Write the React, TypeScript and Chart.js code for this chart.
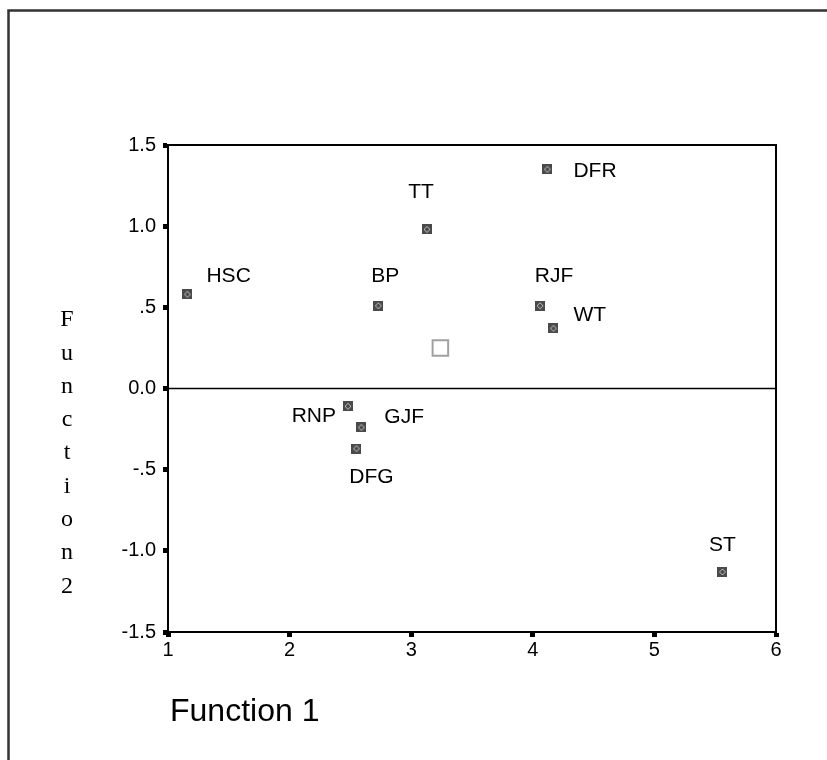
import React, { useEffect, useRef } from "react";
import { Chart, registerables } from "chart.js";

Chart.register(...registerables);

const groupNames = ["HSC", "BP", "TT", "DFR", "RJF", "WT", "RNP", "GJF", "DFG", "ST"];
const function1 = [1.16, 2.73, 3.13, 4.12, 4.06, 4.17, 2.48, 2.59, 2.55, 5.56];
const function2 = [0.58, 0.51, 0.98, 1.35, 0.51, 0.37, -0.11, -0.24, -0.37, -1.13];
const centroidX = [3.24];
const centroidY = [0.25];
const yTickValues = [1.5, 1.0, 0.5, 0.0, -0.5, -1.0, -1.5];
const yTickLabels = ["1.5", "1.0", ".5", "0.0", "-.5", "-1.0", "-1.5"];
const xTickLabels = ["1", "2", "3", "4", "5", "6"];
const xTitle = "Function 1";
const yTitle = "Function2";

// label offsets in pixels (style), [dx, dy, align]
const labelOffsets: [number, number, CanvasTextAlign][] = [
  [19, -18, "left"],
  [7, -30, "center"],
  [-6, -37, "center"],
  [26, 2, "left"],
  [14, -30, "center"],
  [20, -13, "left"],
  [-12, 10, "right"],
  [23, -10, "left"],
  [15, 29, "center"],
  [0, -27, "center"],
];

function makeMarker(): HTMLCanvasElement {
  const c = document.createElement("canvas");
  c.width = 10;
  c.height = 10;
  const g = c.getContext("2d")!;
  g.fillStyle = "#4a4a4a";
  g.fillRect(0, 0, 10, 10);
  g.fillStyle = "#bdbdbd";
  const pts = [[4, 2], [5, 2], [2, 4], [2, 5], [7, 4], [7, 5], [4, 7], [5, 7], [3, 3], [6, 3], [3, 6], [6, 6]];
  for (const [x, y] of pts) g.fillRect(x, y, 1, 1);
  return c;
}

export default function App() {
  const ref = useRef<HTMLCanvasElement>(null);
  useEffect(() => {
    const canvas = ref.current!;
    const marker = makeMarker();
    const extras = {
      id: "extras",
      beforeDraw(chart: any) {
        const ctx = chart.ctx;
        ctx.save();
        ctx.fillStyle = "#fff";
        ctx.fillRect(0, 0, chart.width, chart.height);
        ctx.strokeStyle = "#333";
        ctx.lineWidth = 2.5;
        ctx.beginPath();
        ctx.moveTo(8.5, 770);
        ctx.lineTo(8.5, 10.5);
        ctx.lineTo(840, 10.5);
        ctx.stroke();
        ctx.restore();
      },
      afterDatasetsDraw(chart: any) {
        const ctx = chart.ctx;
        const a = chart.chartArea;
        const xs = chart.scales.x;
        const ys = chart.scales.y;
        ctx.save();
        ctx.strokeStyle = "#000";
        ctx.lineWidth = 2;
        ctx.strokeRect(a.left, a.top, a.right - a.left, a.bottom - a.top);
        ctx.lineWidth = 1.5;
        const y0 = ys.getPixelForValue(0);
        ctx.beginPath();
        ctx.moveTo(a.left, y0);
        ctx.lineTo(a.right, y0);
        ctx.stroke();
        ctx.fillStyle = "#000";
        ctx.font = "21px 'Liberation Sans', Arial, sans-serif";
        ctx.textBaseline = "middle";
        groupNames.forEach((n, i) => {
          const px = xs.getPixelForValue(function1[i]);
          const py = ys.getPixelForValue(function2[i]);
          const [dx, dy, al] = labelOffsets[i];
          ctx.textAlign = al;
          ctx.fillText(n, px + dx, py + dy);
        });
        ctx.font = "24px 'Liberation Serif', 'Times New Roman', serif";
        ctx.textAlign = "center";
        const letters = yTitle.split("");
        letters.forEach((ch, i) => {
          ctx.fillText(ch, 67, 320 + i * 33.3);
        });
        ctx.font = "32px 'Liberation Sans', Arial, sans-serif";
        ctx.textAlign = "left";
        ctx.textBaseline = "alphabetic";
        ctx.fillText(xTitle, 170, 721);
        ctx.restore();
      },
    };
    const chart = new Chart(canvas, {
      type: "scatter",
      data: {
        datasets: [
          {
            data: function1.map((x, i) => ({ x, y: function2[i] })),
            pointStyle: marker as any,
            pointRadius: 5,
          },
          {
            data: centroidX.map((x, i) => ({ x, y: centroidY[i] })),
            pointStyle: "rect",
            pointRadius: 11,
            borderColor: "#a0a0a0",
            backgroundColor: "rgba(0,0,0,0)",
            borderWidth: 2,
          },
        ],
      },
      options: {
        animation: false,
        responsive: false,
        maintainAspectRatio: false,
        layout: { padding: { left: 100, top: 145, right: 51, bottom: 88 } },
        plugins: { legend: { display: false }, tooltip: { enabled: false } },
        scales: {
          x: {
            type: "linear",
            min: 1,
            max: 6,
            afterBuildTicks: (s: any) => {
              s.ticks = xTickLabels.map((t) => ({ value: Number(t) }));
            },
            ticks: {
              color: "#000",
              font: { size: 20, family: "'Liberation Sans', Arial, sans-serif" },
              padding: 1,
              callback: (v: any, i: number) => xTickLabels[i],
            },
            grid: { drawOnChartArea: false, tickLength: 5, tickWidth: 5, tickColor: "#000" },
            border: { display: true, color: "#000", width: 2 },
            afterFit: (s: any) => {
              s.height = 40;
            },
          },
          y: {
            type: "linear",
            min: -1.5,
            max: 1.5,
            afterBuildTicks: (s: any) => {
              s.ticks = yTickValues.map((v) => ({ value: v }));
            },
            ticks: {
              color: "#000",
              font: { size: 20, family: "'Liberation Sans', Arial, sans-serif" },
              padding: 7,
              callback: (v: any, i: number) => yTickLabels[i],
            },
            grid: { drawOnChartArea: false, tickLength: 5, tickWidth: 5, tickColor: "#000" },
            border: { display: true, color: "#000", width: 2 },
            afterFit: (s: any) => {
              s.width = 68;
            },
          },
        },
      },
      plugins: [extras],
    });
    return () => chart.destroy();
  }, []);
  return (
    <div style={{ position: "absolute", left: 0, top: 0, width: 827, height: 760 }}>
      <canvas ref={ref} width={827} height={760} style={{ display: "block" }} />
    </div>
  );
}
